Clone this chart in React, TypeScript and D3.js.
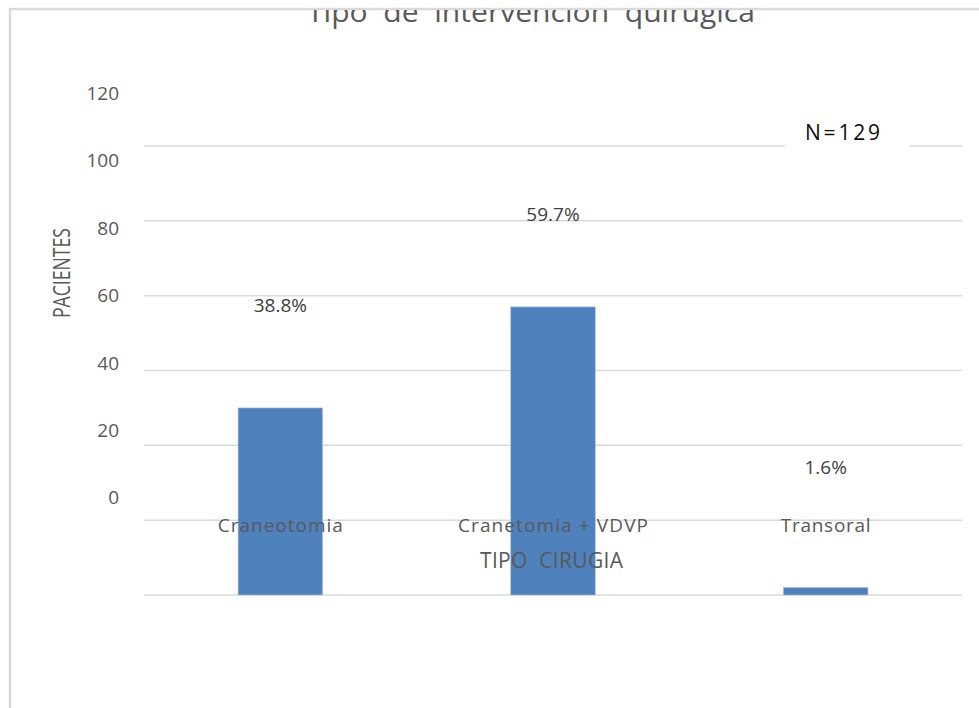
import React from "react";
import * as d3 from "d3";

// Surgery type counts (N = 129)
const categories = ["Craneotomia", "Cranetomia + VDVP", "Transoral"];
const patients = [50, 77, 2];
const totalPatients = 129;
const yTicks = [0, 20, 40, 60, 80, 100, 120];
const categoryLabelWidths = [125, 190, 90];

const W = 979;
const H = 708;
const FONT = "'Open Sans', 'Noto Sans', sans-serif";
const TEXT = "#595959";
const GRID = "#d9d9d9";
const BAR = "#4f81bd";

export default function App() {
  const x = d3
    .scaleBand<string>()
    .domain(categories)
    .range([144, 962])
    .paddingInner(0.69)
    .paddingOuter(0.345);

  // bar scale
  const y = d3.scaleLinear().domain([0, 120]).range([595, 146]);
  // text layer scale (tick labels and value labels)
  const yText = d3.scaleLinear().domain([0, 120]).range([497.7, 93.3]);

  const pct = (v: number) => d3.format(".1f")((v / totalPatients) * 100) + "%";

  return (
    <svg
      width={W}
      height={H}
      style={{ position: "absolute", left: 0, top: 0, background: "#fff" }}
      fontFamily={FONT}
    >
      <defs>
        <clipPath id="frame">
          <rect x={10} y={10} width={W - 10} height={H - 10} />
        </clipPath>
      </defs>

      {/* chart frame */}
      <line x1={10} x2={W} y1={9} y2={9} stroke={GRID} strokeWidth={2.5} />
      <line x1={10} x2={10} y1={8} y2={H} stroke={GRID} strokeWidth={2.5} />

      <g clipPath="url(#frame)">
        <text
          x={531}
          y={22}
          textAnchor="middle"
          fontSize={27}
          fill={TEXT}
          textLength={448}
          lengthAdjust="spacingAndGlyphs"
          style={{ whiteSpace: "pre" }}
        >
          {"Tipo  de  intervención  quirugica"}
        </text>
      </g>

      {/* gridlines */}
      {yTicks.map((t) => (
        <line
          key={t}
          x1={144}
          x2={962}
          y1={y(t)}
          y2={y(t)}
          stroke={GRID}
          strokeWidth={1.5}
        />
      ))}

      {/* tick labels */}
      {yTicks.map((t) => (
        <text
          key={"l" + t}
          x={119}
          y={yText(t)}
          dy="0.35em"
          textAnchor="end"
          fontSize={19}
          fill={TEXT}
        >
          {t}
        </text>
      ))}

      <text
        transform="translate(70,273) rotate(-90)"
        textAnchor="middle"
        fontSize={23}
        fill={TEXT}
        textLength={90}
        lengthAdjust="spacingAndGlyphs"
      >
        PACIENTES
      </text>

      {/* bars */}
      {categories.map((c, i) => (
        <rect
          key={c}
          x={x(c)}
          y={y(patients[i])}
          width={x.bandwidth()}
          height={y(0) - y(patients[i])}
          fill={BAR}
          stroke="#a9c0dd"
          strokeWidth={0.6}
        />
      ))}

      {/* percentage labels */}
      {categories.map((c, i) => (
        <text
          key={"p" + c}
          x={(x(c) as number) + x.bandwidth() / 2}
          y={yText(patients[i]) - 17}
          textAnchor="middle"
          fontSize={19}
          fill="#404040"
        >
          {pct(patients[i])}
        </text>
      ))}

      {/* category labels */}
      {categories.map((c, i) => (
        <text
          key={"c" + c}
          x={(x(c) as number) + x.bandwidth() / 2}
          y={532}
          textAnchor="middle"
          fontSize={19}
          fill={TEXT}
          textLength={categoryLabelWidths[i]}
          lengthAdjust="spacing"
        >
          {c}
        </text>
      ))}

      <text
        x={551.5}
        y={567.5}
        textAnchor="middle"
        fontSize={21}
        fill={TEXT}
        textLength={143}
        lengthAdjust="spacing"
        style={{ whiteSpace: "pre" }}
      >
        {"TIPO  CIRUGIA"}
      </text>

      {/* sample size box */}
      <rect x={785} y={116} width={125} height={34} fill="#fff" />
      <text
        x={842.5}
        y={139.5}
        textAnchor="middle"
        fontSize={21}
        fill="#0d0d0d"
        textLength={75}
        lengthAdjust="spacing"
      >
        N=129
      </text>
    </svg>
  );
}
